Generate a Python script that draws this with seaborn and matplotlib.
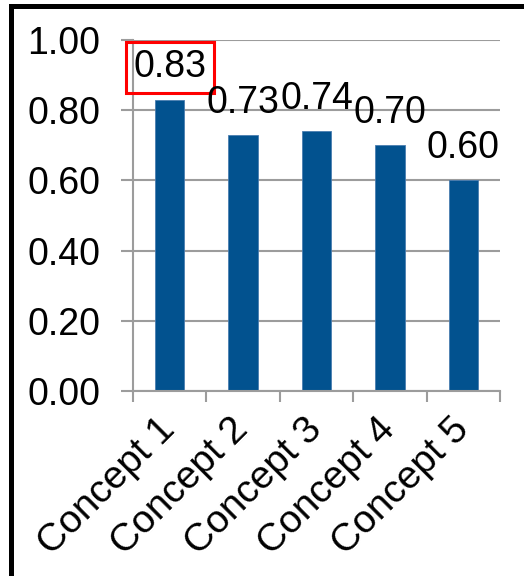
import numpy as np
import matplotlib
matplotlib.use("Agg")
import matplotlib.pyplot as plt
from matplotlib.lines import Line2D
import seaborn as sns

categories = ["Concept 1", "Concept 2", "Concept 3", "Concept 4", "Concept 5"]
values = [0.83, 0.73, 0.74, 0.70, 0.60]
y_ticks = [0.0, 0.2, 0.4, 0.6, 0.8, 1.0]

sns.set_style("white")
plt.rcParams["font.family"] = ["Liberation Sans", "DejaVu Sans"]
plt.rcParams["text.color"] = "black"
plt.rcParams["xtick.labelcolor"] = "black"
plt.rcParams["ytick.labelcolor"] = "black"

BAR = "#02528F"
GRID = "#9C9C9C"
W, H = 524, 576

fig = plt.figure(figsize=(W / 100, H / 100), dpi=100)
ax = fig.add_axes([133 / W, 1 - 391 / H, (500 - 133) / W, (391 - 40) / H])

sns.barplot(x=categories, y=values, color=BAR, width=0.4, saturation=1,
            edgecolor="#4A7DB0", linewidth=0.6, ax=ax)

ax.set_xlim(-0.5, len(categories) - 0.5)
ax.set_ylim(0, 1.0)
ax.set_yticks(y_ticks, labels=[f"{t:.2f}" for t in y_ticks])
ax.yaxis.grid(True, color=GRID, linewidth=1.5)
ax.set_axisbelow(True)

# category boundaries carry the tick marks, labels sit at category centres
ax.set_xticks(np.arange(-0.5, len(categories), 1.0), labels=[""] * (len(categories) + 1))
ax.set_xticks(np.arange(len(categories)), labels=categories, minor=True)
ax.tick_params(axis="x", which="major", direction="out", length=8, width=1.5,
               color=GRID, bottom=True)
ax.tick_params(axis="x", which="minor", length=0, pad=24, labelsize=28,
               labelcolor="black")
ax.tick_params(axis="y", direction="out", length=8.5, width=1.5, color=GRID,
               left=True, pad=15, labelsize=27, labelcolor="black")
for lab in ax.get_xticklabels(minor=True):
    lab.set_rotation(45)
    lab.set_ha("right")
    lab.set_rotation_mode("anchor")
    lab.set_va("center")

for s in ["top", "right"]:
    ax.spines[s].set_visible(False)
for s in ["left", "bottom"]:
    ax.spines[s].set_color(GRID)
    ax.spines[s].set_linewidth(1.5)
ax.set_xlabel("")
ax.set_ylabel("")

for i, v in enumerate(values):
    kw = {}
    if i == 0:
        kw["bbox"] = dict(boxstyle="square,pad=0.2", fc="none", ec="#FF0000", lw=2.2)
    ax.annotate(f"{v:.2f}", xy=(i, v), xytext=(0, 16), textcoords="offset points",
                ha="center", va="baseline", fontsize=27, color="black", **kw)

# outer frame
lw = 3.6
fig.add_artist(Line2D([11 / W, 11 / W], [0, 1 - 5.5 / H], transform=fig.transFigure,
                      color="black", linewidth=lw, solid_capstyle="projecting"))
fig.add_artist(Line2D([11 / W, 1], [1 - 5.5 / H, 1 - 5.5 / H], transform=fig.transFigure,
                      color="black", linewidth=lw, solid_capstyle="projecting"))

fig.savefig("out.png", dpi=100)
